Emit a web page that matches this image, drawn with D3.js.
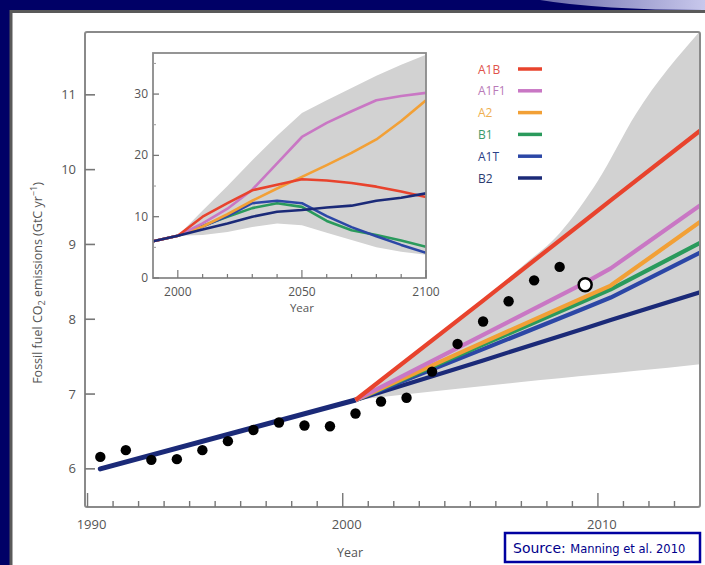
<!DOCTYPE html>
<html><head><meta charset="utf-8">
<script src="https://cdn.jsdelivr.net/npm/d3@7"></script>
<style>body{margin:0;background:#000066;overflow:hidden} svg{display:block}</style>
</head><body><svg id="c" width="705" height="565"></svg>
<script>
// ---------- DATA ----------
const obsYears  = [1990,1991,1992,1993,1994,1995,1996,1997,1998,1999,2000,2001,2002,2003,2004,2005,2006,2007,2008];
const obsValues = [6.16,6.25,6.12,6.13,6.25,6.37,6.52,6.62,6.58,6.57,6.74,6.90,6.95,7.30,7.67,7.97,8.24,8.52,8.70];
const estYears  = [2009];
const estValues = [8.46];
const histYears  = [1990, 2000];
const histValues = [6.00, 6.92];
const scenYears = [2000, 2005, 2009, 2010, 2013.5];
const scenA1B  = [6.92, 8.25, 9.32, 9.59, 10.52];
const scenA1F1 = [6.92, 7.79, 8.49, 8.68, 9.52];
const scenA2   = [6.92, 7.69, 8.30, 8.45, 9.30];
const scenB1   = [6.92, 7.66, 8.25, 8.40, 9.02];
const scenA1T  = [6.92, 7.60, 8.15, 8.29, 8.89];
const scenB2   = [6.92, 7.45, 7.88, 7.99, 8.36];
const bandYears = [2000, 2004, 2006.5, 2008, 2009.5, 2011, 2013.5];
const bandUpper = [6.92, 7.98, 8.70, 9.15, 9.85, 10.75, 11.85];
const bandLower = [6.92, 7.07, 7.16, 7.21, 7.26, 7.31, 7.40];
const mainYTicks = [6,7,8,9,10,11];
const mainXLabels = [1990, 2000, 2010];

const insetYears = [1990,2000,2010,2020,2030,2040,2050,2060,2070,2080,2090,2100];
const insA1B  = [6.0,6.9,10.0,12.2,14.3,15.2,16.1,15.9,15.5,14.9,14.1,13.2];
const insA1F1 = [6.0,6.9,8.9,11.3,14.4,18.7,23.0,25.3,27.2,29.0,29.7,30.2];
const insA2   = [6.0,6.9,8.4,10.4,12.6,14.6,16.5,18.4,20.4,22.6,25.6,29.0];
const insB1   = [6.0,6.9,8.5,10.0,11.4,12.2,11.6,9.3,7.8,7.0,6.1,5.1];
const insA1T  = [6.0,6.9,8.4,10.1,12.2,12.6,12.2,10.1,8.3,6.8,5.4,4.1];
const insB2   = [6.0,6.9,7.9,8.9,10.0,10.8,11.1,11.5,11.8,12.6,13.1,13.8];
const insUpper = [6.0,6.9,11.0,15.0,19.2,23.2,26.9,29.0,31.0,33.0,34.8,36.4];
const insLower = [6.0,6.9,7.0,7.5,8.3,8.9,8.6,7.4,6.2,5.0,4.3,3.8];
const insYTicks = [0,10,20,30];
const insXLabels = [2000,2050,2100];

const legendNames = ["A1B","A1F1","A2","B1","A1T","B2"];
const lineColors  = {A1B:"#e8432d",A1F1:"#c977c4",A2:"#f2a036",B1:"#2a9a5c",A1T:"#2c47a6",B2:"#1b2a78"};
const textColors  = {A1B:"#e0524a",A1F1:"#b97ab8",A2:"#efb050",B1:"#3a9a6a",A1T:"#2a3f88",B2:"#2a3a70"};

const mainSeries = {A1B:scenA1B,A1F1:scenA1F1,A2:scenA2,B1:scenB1,A1T:scenA1T,B2:scenB2};
const insSeries  = {A1B:insA1B,A1F1:insA1F1,A2:insA2,B1:insB1,A1T:insA1T,B2:insB2};

// ---------- DRAW ----------
const FONT = "'Open Sans', Lato, sans-serif";
const svg = d3.select("#c");
const defs = svg.append("defs");
const g1 = defs.append("linearGradient").attr("id","lav").attr("x1","0").attr("x2","1");
g1.append("stop").attr("offset","0").attr("stop-color","#6a6aaa");
g1.append("stop").attr("offset","1").attr("stop-color","#c8c8ec");

svg.append("rect").attr("width",705).attr("height",565).attr("fill","#000066");
svg.append("path").attr("d","M540,0 Q600,10 705,10 L705,0 Z").attr("fill","url(#lav)");
svg.append("rect").attr("x",11).attr("y",11.5).attr("width",700).attr("height",560)
  .attr("fill","#ffffff").attr("stroke","#5a5a5a").attr("stroke-width",3);

// main scales
const x = d3.scaleLinear().domain([1989.9, 2014.0]).range([85, 700]);
const y = d3.scaleLinear().domain([5.49, 11.84]).range([507, 32]);
const mid = 0.5; // annual values are plotted at mid-year

const clip = defs.append("clipPath").attr("id","mclip");
clip.append("rect").attr("x",85).attr("y",32).attr("width",615).attr("height",475);

const plot = svg.append("g").attr("clip-path","url(#mclip)");
const band = d3.area().x((d,i)=>x(bandYears[i]+mid)).y0((d,i)=>y(bandLower[i])).y1(d=>y(d)).curve(d3.curveMonotoneX);
plot.append("path").datum(bandUpper).attr("d",band).attr("fill","#d2d2d2");

const line = d3.line().x(d=>x(d.yr+mid)).y(d=>y(d.v));
plot.append("path").datum(histYears.map((yr,i)=>({yr,v:histValues[i]})))
  .attr("d",line).attr("fill","none").attr("stroke","#1b2a78").attr("stroke-width",5).attr("stroke-linecap","round");

["B2","A1T","B1","A2","A1F1","A1B"].forEach(k=>{
  plot.append("path").datum(scenYears.map((yr,i)=>({yr,v:mainSeries[k][i]})))
    .attr("d",line).attr("fill","none").attr("stroke",lineColors[k]).attr("stroke-width",4.2)
    .attr("stroke-linejoin","round");
});

plot.selectAll("circle.obs").data(obsYears).enter().append("circle")
  .attr("cx",d=>x(d+mid)).attr("cy",(d,i)=>y(obsValues[i])).attr("r",5.2).attr("fill","#000");
plot.selectAll("circle.est").data(estYears).enter().append("circle")
  .attr("cx",d=>x(d+mid)).attr("cy",(d,i)=>y(estValues[i])).attr("r",6.5)
  .attr("fill","#fff").attr("stroke","#000").attr("stroke-width",2.5);

// frame & axes
svg.append("rect").attr("x",85).attr("y",32).attr("width",615).attr("height",475)
  .attr("fill","none").attr("stroke","#8a8a8a").attr("stroke-width",2).attr("rx",2);
const ax = svg.append("g");
mainYTicks.forEach(t=>{
  ax.append("line").attr("x1",85).attr("x2",95).attr("y1",y(t)).attr("y2",y(t)).attr("stroke","#777").attr("stroke-width",1.6);
  ax.append("text").attr("x",76).attr("y",y(t)+4.5).attr("text-anchor","end").text(t);
});
d3.range(1990, 2014).forEach(t=>{
  const major = mainXLabels.includes(t);
  ax.append("line").attr("x1",x(t)).attr("x2",x(t)).attr("y1",507).attr("y2",major?493:501)
    .attr("stroke","#777").attr("stroke-width",1.4);
});
mainXLabels.forEach(t=>{
  ax.append("text").attr("x",x(t)+4).attr("y",529).attr("text-anchor","middle").text(t);
});
ax.selectAll("text").attr("font-family",FONT).attr("font-size",13).attr("fill","#555");
svg.append("text").attr("x",350).attr("y",557).attr("text-anchor","middle")
  .attr("font-family",FONT).attr("font-size",12.5).attr("fill","#555").text("Year");
const yt = svg.append("text").attr("transform","translate(42,283) rotate(-90)").attr("text-anchor","middle")
  .attr("font-family",FONT).attr("font-size",12.5).attr("fill","#555");
yt.append("tspan").text("Fossil fuel CO");
yt.append("tspan").attr("font-size",9).attr("dy",3).text("2");
yt.append("tspan").attr("dy",-3).text(" emissions (GtC yr");
yt.append("tspan").attr("font-size",9).attr("dy",-5).text("−1");
yt.append("tspan").attr("dy",5).text(")");

// legend
legendNames.forEach((k,i)=>{
  const ly = 69 + i*21.8;
  svg.append("text").attr("x",478).attr("y",ly+4.5).attr("font-family",FONT)
    .attr("font-size",12).attr("fill",textColors[k]).text(k);
  svg.append("line").attr("x1",518).attr("x2",542).attr("y1",ly).attr("y2",ly)
    .attr("stroke",lineColors[k]).attr("stroke-width",3.5);
});

// ---------- INSET ----------
const ix = d3.scaleLinear().domain([1990, 2100]).range([153, 426]);
const iy = d3.scaleLinear().domain([0, 36.7]).range([278, 53]);
svg.append("rect").attr("x",153).attr("y",53).attr("width",273).attr("height",225).attr("fill","#fff");
const iclip = defs.append("clipPath").attr("id","iclip");
iclip.append("rect").attr("x",153).attr("y",53).attr("width",273).attr("height",225);
const ip = svg.append("g").attr("clip-path","url(#iclip)");
const iband = d3.area().x((d,i)=>ix(insetYears[i])).y0((d,i)=>iy(insLower[i])).y1(d=>iy(d));
ip.append("path").datum(insUpper).attr("d",iband).attr("fill","#d2d2d2");
const iline = d3.line().x((d,i)=>ix(insetYears[i])).y(d=>iy(d));
["B1","A1T","A2","A1F1","A1B","B2"].forEach(k=>{
  ip.append("path").datum(insSeries[k]).attr("d",iline).attr("fill","none")
    .attr("stroke",lineColors[k]).attr("stroke-width",2.6).attr("stroke-linejoin","round");
});
svg.append("rect").attr("x",153).attr("y",53).attr("width",273).attr("height",225)
  .attr("fill","none").attr("stroke","#8a8a8a").attr("stroke-width",1.8);
const iax = svg.append("g");
insYTicks.forEach(t=>{
  iax.append("line").attr("x1",153).attr("x2",159).attr("y1",iy(t)).attr("y2",iy(t)).attr("stroke","#777").attr("stroke-width",1.3);
  iax.append("text").attr("x",148).attr("y",iy(t)+4).attr("text-anchor","end").text(t);
});
[5,15,25,35].forEach(t=>{
  iax.append("line").attr("x1",153).attr("x2",156).attr("y1",iy(t)).attr("y2",iy(t)).attr("stroke","#999").attr("stroke-width",1);
});
d3.range(2000, 2101, 10).forEach(t=>{
  const major = insXLabels.includes(t);
  iax.append("line").attr("x1",ix(t)).attr("x2",ix(t)).attr("y1",278).attr("y2",major?270:274)
    .attr("stroke","#777").attr("stroke-width",1.2);
});
insXLabels.forEach(t=>{
  iax.append("text").attr("x",ix(t)).attr("y",296).attr("text-anchor","middle").text(t);
});
iax.selectAll("text").attr("font-family",FONT).attr("font-size",12).attr("fill","#555");
svg.append("text").attr("x",ix(2050)).attr("y",312).attr("text-anchor","middle")
  .attr("font-family",FONT).attr("font-size",11.5).attr("fill","#555").text("Year");

// source box
svg.append("rect").attr("x",505).attr("y",533).attr("width",195).attr("height",29)
  .attr("fill","#fff").attr("stroke","#0000a0").attr("stroke-width",2.5);
const st = svg.append("text").attr("x",513).attr("y",553).attr("font-family","DejaVu Sans, sans-serif").attr("fill","#00008b");
st.append("tspan").attr("font-size",14).text("Source: ");
st.append("tspan").attr("font-size",11.5).text("Manning et al. 2010");
</script></body></html>
